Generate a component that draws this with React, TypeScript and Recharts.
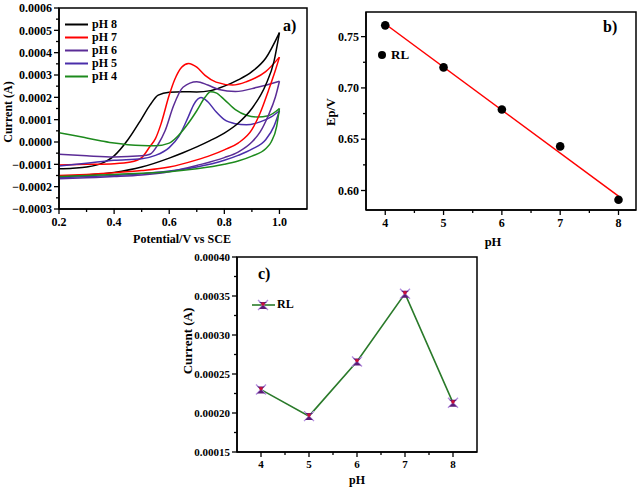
import React from 'react';
import { LineChart, ComposedChart, Line, Scatter, XAxis, YAxis, ReferenceArea, Legend, Label } from 'recharts';

const FONT = '"Liberation Serif", "Times New Roman", serif';

// ---------- a) cyclic voltammograms (potential V, current A) ----------
const ph8Fwd = [[0.2, -1.2e-4], [0.25, -1.17e-4], [0.3, -1.12e-4], [0.35, -0.98e-4], [0.4, -0.62e-4], [0.45, 0.1e-4], [0.5, 1.05e-4], [0.53, 1.65e-4], [0.56, 2.1e-4], [0.6, 2.23e-4], [0.65, 2.25e-4], [0.7, 2.24e-4], [0.75, 2.3e-4], [0.8, 2.5e-4], [0.85, 2.78e-4], [0.9, 3.15e-4], [0.95, 3.75e-4], [1.0, 4.9e-4]];
const ph8Rev = [[0.2, -1.55e-4], [0.3, -1.48e-4], [0.4, -1.36e-4], [0.5, -1.12e-4], [0.6, -0.72e-4], [0.65, -0.48e-4], [0.7, -0.22e-4], [0.75, 0.07e-4], [0.8, 0.4e-4], [0.85, 0.84e-4], [0.9, 1.5e-4], [0.95, 2.55e-4], [0.98, 3.6e-4], [1.0, 4.9e-4]];
const ph7Fwd = [[0.2, -1.03e-4], [0.3, -1.0e-4], [0.4, -0.97e-4], [0.46, -0.9e-4], [0.5, -0.7e-4], [0.53, -0.2e-4], [0.55, 0.15e-4], [0.57, 0.8e-4], [0.6, 2.1e-4], [0.62, 2.8e-4], [0.645, 3.35e-4], [0.67, 3.52e-4], [0.7, 3.35e-4], [0.73, 2.98e-4], [0.77, 2.68e-4], [0.83, 2.55e-4], [0.88, 2.7e-4], [0.95, 3.15e-4], [1.0, 3.8e-4]];
const ph7Rev = [[0.2, -1.5e-4], [0.3, -1.45e-4], [0.4, -1.38e-4], [0.5, -1.28e-4], [0.6, -1.12e-4], [0.7, -0.8e-4], [0.75, -0.6e-4], [0.8, -0.35e-4], [0.85, -0.05e-4], [0.9, 0.55e-4], [0.93, 1.3e-4], [0.96, 2.3e-4], [0.985, 3.2e-4], [1.0, 3.8e-4]];
const ph6Fwd = [[0.2, -0.55e-4], [0.3, -0.62e-4], [0.4, -0.67e-4], [0.5, -0.62e-4], [0.53, -0.55e-4], [0.56, -0.1e-4], [0.585, 0.5e-4], [0.615, 1.6e-4], [0.65, 2.45e-4], [0.7, 2.7e-4], [0.74, 2.55e-4], [0.78, 2.35e-4], [0.84, 2.26e-4], [0.92, 2.45e-4], [1.0, 2.72e-4]];
const ph6Rev = [[0.2, -1.65e-4], [0.3, -1.6e-4], [0.4, -1.55e-4], [0.5, -1.48e-4], [0.6, -1.33e-4], [0.7, -1.05e-4], [0.8, -0.7e-4], [0.85, -0.45e-4], [0.9, 0.0], [0.93, 0.45e-4], [0.96, 1.2e-4], [0.985, 2.0e-4], [1.0, 2.72e-4]];
const ph5Fwd = [[0.2, -1.07e-4], [0.3, -0.95e-4], [0.4, -0.82e-4], [0.5, -0.75e-4], [0.55, -0.6e-4], [0.6, -0.25e-4], [0.635, 0.25e-4], [0.67, 1.15e-4], [0.69, 1.7e-4], [0.715, 1.99e-4], [0.74, 1.8e-4], [0.77, 1.35e-4], [0.8, 1.0e-4], [0.84, 0.82e-4], [0.88, 0.77e-4], [0.93, 0.9e-4], [0.97, 1.12e-4], [1.0, 1.4e-4]];
const ph5Rev = [[0.2, -1.6e-4], [0.3, -1.55e-4], [0.4, -1.5e-4], [0.5, -1.42e-4], [0.6, -1.3e-4], [0.7, -1.12e-4], [0.8, -0.82e-4], [0.85, -0.6e-4], [0.9, -0.32e-4], [0.95, 0.1e-4], [0.98, 0.7e-4], [1.0, 1.4e-4]];
const ph4Fwd = [[0.2, 0.42e-4], [0.25, 0.3e-4], [0.3, 0.18e-4], [0.35, 0.06e-4], [0.4, -0.05e-4], [0.45, -0.12e-4], [0.5, -0.16e-4], [0.55, -0.17e-4], [0.6, -0.05e-4], [0.63, 0.25e-4], [0.67, 0.85e-4], [0.7, 1.4e-4], [0.73, 2.0e-4], [0.75, 2.25e-4], [0.77, 2.2e-4], [0.8, 1.9e-4], [0.84, 1.45e-4], [0.88, 1.2e-4], [0.92, 1.12e-4], [0.96, 1.18e-4], [1.0, 1.5e-4]];
const ph4Rev = [[0.2, -1.55e-4], [0.3, -1.5e-4], [0.4, -1.45e-4], [0.5, -1.4e-4], [0.6, -1.33e-4], [0.7, -1.2e-4], [0.8, -1.0e-4], [0.85, -0.85e-4], [0.9, -0.63e-4], [0.95, -0.3e-4], [0.97, 0.0], [0.99, 0.7e-4], [1.0, 1.5e-4]];

const cvSeries = [
  { name: 'pH 8', color: '#000000', fwd: ph8Fwd, rev: ph8Rev },
  { name: 'pH 7', color: '#ff0000', fwd: ph7Fwd, rev: ph7Rev },
  { name: 'pH 6', color: '#5b2c96', fwd: ph6Fwd, rev: ph6Rev },
  { name: 'pH 5', color: '#4a2eaa', fwd: ph5Fwd, rev: ph5Rev },
  { name: 'pH 4', color: '#1d8a1d', fwd: ph4Fwd, rev: ph4Rev },
];

const cvXMajor = [0.2, 0.4, 0.6, 0.8, 1.0];
const cvXMinor = [0.3, 0.5, 0.7, 0.9];
const cvYMajor = [-3e-4, -2e-4, -1e-4, 0, 1e-4, 2e-4, 3e-4, 4e-4, 5e-4, 6e-4];
const cvYMinor = [-2.5e-4, -1.5e-4, -0.5e-4, 0.5e-4, 1.5e-4, 2.5e-4, 3.5e-4, 4.5e-4, 5.5e-4];

// ---------- b) peak potential vs pH ----------
const phValues = [4, 5, 6, 7, 8];
const epValues = [0.761, 0.72, 0.679, 0.643, 0.591];
const fitPh = [4, 8];
const fitEp = [0.7623, 0.5945];
const epXMajor = [4, 5, 6, 7, 8];
const epXMinor = [4.5, 5.5, 6.5, 7.5];
const epYMajor = [0.6, 0.65, 0.7, 0.75];
const epYMinor = [0.625, 0.675, 0.725];

// ---------- c) peak current vs pH ----------
const peakCurrent = [2.3e-4, 1.96e-4, 2.66e-4, 3.53e-4, 2.13e-4];
const ipYMajor = [1.5e-4, 2.0e-4, 2.5e-4, 3.0e-4, 3.5e-4, 4.0e-4];
const ipYMinor = [1.75e-4, 2.25e-4, 2.75e-4, 3.25e-4, 3.75e-4];

const TS = 5;
const TM = 2;

const toPts = (arr: number[][]) => arr.map(([x, y]) => ({ x, y }));

function makeTick(side: 'left' | 'bottom', majors: number[], fmt: (v: number) => string, size: number) {
  return (p: any) => {
    const v = p.payload.value;
    const major = majors.some((m) => Math.abs(m - v) < 1e-9);
    const len = major ? 5 : 3;
    if (side === 'left') {
      const ax = p.x + TS + TM;
      return (
        <g>
          <line x1={ax - len} x2={ax} y1={p.y} y2={p.y} stroke="#000" strokeWidth={1.3} />
          {major && (
            <text x={p.x} y={p.y} dy="0.35em" textAnchor="end" fontSize={size} fontWeight="bold" fontFamily={FONT} fill="#000">
              {fmt(v)}
            </text>
          )}
        </g>
      );
    }
    const ay = p.y - TS - TM;
    return (
      <g>
        <line x1={p.x} x2={p.x} y1={ay} y2={ay + len} stroke="#000" strokeWidth={1.3} />
        {major && (
          <text x={p.x} y={p.y} dy="0.8em" textAnchor="middle" fontSize={size} fontWeight="bold" fontFamily={FONT} fill="#000">
            {fmt(v)}
          </text>
        )}
      </g>
    );
  };
}

const signed = (s: string) => s.replace('-', '\u2212');

// axis title placed at a fixed spot of the chart surface
const title = (text: string, x: number, y: number, size: number, rotate = false) => () => (
  <text
    x={x}
    y={y}
    textAnchor="middle"
    dominantBaseline="central"
    fontSize={size}
    fontWeight="bold"
    fontFamily={FONT}
    fill="#000"
    transform={rotate ? `rotate(-90 ${x} ${y})` : undefined}
  >
    {text}
  </text>
);

const StarMark = ({ cx, cy }: any) => {
  if (cx == null || cy == null) return null;
  const r = 5;
  return (
    <g>
      <path d={`M${cx - r},${cy - r} L${cx + r},${cy + r} M${cx + r},${cy - r} L${cx - r},${cy + r}`} stroke="#b48ee0" strokeWidth={1.4} />
      <path d={`M${cx - r + 1},${cy - r + 2} L${cx + r - 1},${cy - r + 2} L${cx},${cy} Z M${cx - r + 1},${cy + r - 1} L${cx + r - 1},${cy + r - 1} L${cx},${cy} Z`} fill="#5a1d78" />
      <circle cx={cx} cy={cy - 1} r={1.8} fill="#c8103c" />
    </g>
  );
};

// legend keeps the series order of the original figure (pH 8 first)
const CvLegend = () => (
  <div style={{ fontFamily: FONT, fontWeight: 'bold', fontSize: 12, color: '#000' }}>
    {cvSeries.map((s) => (
      <div key={s.name} style={{ display: 'flex', alignItems: 'center', height: 13 }}>
        <svg width={27} height={13}>
          <line x1={0} x2={23} y1={6.5} y2={6.5} stroke={s.color} strokeWidth={2} />
        </svg>
        <span>{s.name}</span>
      </div>
    ))}
  </div>
);

const EpLegend = () => (
  <div style={{ fontFamily: FONT, fontWeight: 'bold', fontSize: 13, color: '#000', display: 'flex', alignItems: 'center' }}>
    <svg width={14} height={12}>
      <circle cx={5} cy={6} r={4} fill="#000" />
    </svg>
    <span>RL</span>
  </div>
);

const IpLegend = () => (
  <div style={{ fontFamily: FONT, fontWeight: 'bold', fontSize: 12, color: '#000', display: 'flex', alignItems: 'center' }}>
    <svg width={25} height={14}>
      <line x1={0} x2={23} y1={7} y2={7} stroke="#2a7a2a" strokeWidth={1.6} />
      <StarMark cx={11} cy={7} />
    </svg>
    <span>RL</span>
  </div>
);

const panelLetter = (text: string, left: number, top: number) => (
  <div style={{ position: 'absolute', left, top, fontFamily: FONT, fontWeight: 'bold', fontSize: 16, lineHeight: '16px', color: '#000' }}>
    {text}
  </div>
);

const axisLine = { stroke: '#000', strokeWidth: 1.5 };

export default function App() {
  const epPoints = phValues.map((x, i) => ({ x, y: epValues[i] }));
  const fitPoints = fitPh.map((x, i) => ({ x, y: fitEp[i] }));
  const ipRows = phValues.map((ph, i) => ({ ph, current: peakCurrent[i] }));

  return (
    <div style={{ position: 'absolute', left: 0, top: 0, width: 640, height: 489, background: '#fff', overflow: 'hidden' }}>
      {/* a) */}
      <div style={{ position: 'absolute', left: 0, top: 0 }}>
        <LineChart width={320} height={250} margin={{ top: 8, right: 13, bottom: 11, left: 0 }}>
          <XAxis
            type="number"
            dataKey="x"
            domain={[0.2, 1.1]}
            allowDataOverflow
            ticks={[...cvXMajor, ...cvXMinor]}
            interval={0}
            height={30}
            tickSize={TS}
            tickMargin={TM}
            tickLine={false}
            axisLine={axisLine}
            tick={makeTick('bottom', cvXMajor, (v) => v.toFixed(1), 12)}
          >
            <Label content={title('Potential/V vs SCE', 182, 239, 12)} />
          </XAxis>
          <YAxis
            type="number"
            domain={[-3e-4, 6e-4]}
            allowDataOverflow
            ticks={[...cvYMajor, ...cvYMinor]}
            interval={0}
            width={59}
            tickSize={TS}
            tickMargin={TM}
            tickLine={false}
            axisLine={axisLine}
            tick={makeTick('left', cvYMajor, (v) => signed(v.toFixed(4)), 12)}
          >
            <Label content={title('Current (A)', 8, 112, 12, true)} />
          </YAxis>
          <ReferenceArea x1={0.2} x2={1.1} y1={-3e-4} y2={6e-4} fill="none" stroke="#000" strokeWidth={1.5} ifOverflow="visible" />
          {cvSeries.map((s) => (
            <Line
              key={s.name + 'f'}
              name={s.name}
              data={toPts(s.fwd)}
              dataKey="y"
              type="monotone"
              stroke={s.color}
              strokeWidth={1.5}
              dot={false}
              isAnimationActive={false}
            />
          ))}
          {cvSeries.map((s) => (
            <Line
              key={s.name + 'r'}
              name={s.name + ' '}
              data={toPts(s.rev)}
              dataKey="y"
              type="monotone"
              stroke={s.color}
              strokeWidth={1.5}
              dot={false}
              legendType="none"
              isAnimationActive={false}
            />
          ))}
          <Legend
            layout="vertical"
            align="center"
            verticalAlign="middle"
            content={CvLegend}
            wrapperStyle={{ left: 65, top: 17.5, width: 'auto', height: 'auto' }}
          />
        </LineChart>
      </div>
      {panelLetter('a)', 283, 18)}

      {/* b) */}
      <div style={{ position: 'absolute', left: 320, top: 0 }}>
        <ComposedChart width={320} height={250} margin={{ top: 12, right: 4, bottom: 10, left: 0 }}>
          <XAxis
            type="number"
            dataKey="x"
            domain={[3.67, 8.3]}
            allowDataOverflow
            ticks={[...epXMajor, ...epXMinor]}
            interval={0}
            height={30}
            tickSize={TS}
            tickMargin={TM}
            tickLine={false}
            axisLine={axisLine}
            tick={makeTick('bottom', epXMajor, (v) => String(v), 12)}
          >
            <Label content={title('pH', 173, 242, 12.5)} />
          </XAxis>
          <YAxis
            type="number"
            domain={[0.581, 0.774]}
            allowDataOverflow
            ticks={[...epYMajor, ...epYMinor]}
            interval={0}
            width={46}
            tickSize={TS}
            tickMargin={TM}
            tickLine={false}
            axisLine={axisLine}
            tick={makeTick('left', epYMajor, (v) => v.toFixed(2), 12)}
          >
            <Label content={title('Ep/V', 11, 112, 12.5, true)} />
          </YAxis>
          <ReferenceArea x1={3.67} x2={8.3} y1={0.581} y2={0.774} fill="none" stroke="#000" strokeWidth={1.5} ifOverflow="visible" />
          <Line name="fit" data={fitPoints} dataKey="y" type="linear" stroke="#ff0000" strokeWidth={1.5} dot={false} legendType="none" isAnimationActive={false} />
          <Scatter
            name="RL"
            data={epPoints}
            dataKey="y"
            fill="#000"
            isAnimationActive={false}
            shape={(p: any) => <circle cx={p.cx} cy={p.cy} r={4.3} fill="#000" />}
          />
          <Legend layout="vertical" align="center" verticalAlign="middle" content={EpLegend} wrapperStyle={{ left: 57, top: 47, width: 'auto', height: 'auto' }} />
        </ComposedChart>
      </div>
      {panelLetter('b)', 603, 19)}

      {/* c) */}
      <div style={{ position: 'absolute', left: 150, top: 240 }}>
        <LineChart width={340} height={249} data={ipRows} margin={{ top: 17, right: 13, bottom: 9, left: 0 }}>
          <XAxis
            type="number"
            dataKey="ph"
            domain={[3.5, 8.5]}
            allowDataOverflow
            ticks={[...epXMajor, ...epXMinor]}
            interval={0}
            height={28}
            tickSize={TS}
            tickMargin={TM}
            tickLine={false}
            axisLine={axisLine}
            tick={makeTick('bottom', epXMajor, (v) => String(v), 11)}
          >
            <Label content={title('pH', 207, 240, 12)} />
          </XAxis>
          <YAxis
            type="number"
            domain={[1.5e-4, 4.0e-4]}
            allowDataOverflow
            ticks={[...ipYMajor, ...ipYMinor]}
            interval={0}
            width={87}
            tickSize={TS}
            tickMargin={TM}
            tickLine={false}
            axisLine={axisLine}
            tick={makeTick('left', ipYMajor, (v) => v.toFixed(5), 11)}
          >
            <Label content={title('Current (A)', 37, 101, 13, true)} />
          </YAxis>
          <ReferenceArea x1={3.5} x2={8.5} y1={1.5e-4} y2={4.0e-4} fill="none" stroke="#000" strokeWidth={1.5} ifOverflow="visible" />
          <Line
            name="RL"
            dataKey="current"
            type="linear"
            stroke="#2a7a2a"
            strokeWidth={1.6}
            dot={<StarMark />}
            isAnimationActive={false}
          />
          <Legend layout="vertical" align="center" verticalAlign="middle" content={IpLegend} wrapperStyle={{ left: 102, top: 57, width: 'auto', height: 'auto' }} />
        </LineChart>
      </div>
      {panelLetter('c)', 258, 266)}
    </div>
  );
}
